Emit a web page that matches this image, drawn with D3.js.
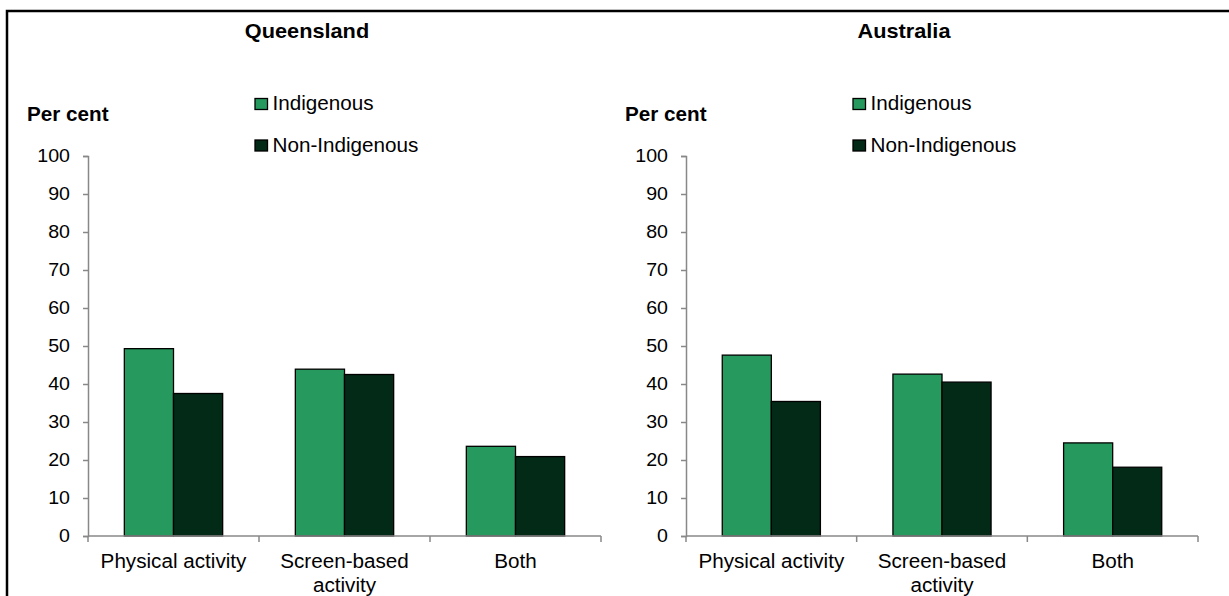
<!DOCTYPE html>
<html><head><meta charset="utf-8">
<script src="https://cdn.jsdelivr.net/npm/d3@7"></script>
<style>body{margin:0;background:#fff}svg{display:block}text{font-family:"Liberation Sans",Arial,sans-serif;fill:#000}</style>
</head><body><svg id="c" width="1229" height="596"></svg>
<script>
const categories = ["Physical activity", "Screen-based\nactivity", "Both"];
const seriesNames = ["Indigenous", "Non-Indigenous"];
const colors = ["#269A5E", "#022A17"];
const panelTitles = ["Queensland", "Australia"];
const qldIndigenous = [49.3, 43.9, 23.6];
const qldNonIndigenous = [37.5, 42.5, 20.9];
const ausIndigenous = [47.6, 42.6, 24.5];
const ausNonIndigenous = [35.4, 40.5, 18.1];
const yTicks = [0,10,20,30,40,50,60,70,80,90,100];

const SX = 1.06; // horizontal text stretch
const panels = [
  {title: panelTitles[0], data: [qldIndigenous, qldNonIndigenous], x0: 88, x1: 601, titleX: 307},
  {title: panelTitles[1], data: [ausIndigenous, ausNonIndigenous], x0: 686, x1: 1198, titleX: 904}
];

const svg = d3.select("#c");
svg.append("path").attr("d","M7,596 L7,11 L1229,11").attr("fill","none").attr("stroke","#000").attr("stroke-width",2.5);

const y = d3.scaleLinear().domain([0,100]).range([536,156]);

function txt(g, x, yy, s, size, opts={}) {
  return g.append("text").attr("transform", `translate(${x},${yy}) scale(${SX},1)`)
    .attr("text-anchor", opts.anchor || "start")
    .style("font-size", size + "px").style("font-weight", opts.bold ? "bold" : "normal").text(s);
}

panels.forEach(p => {
  const g = svg.append("g");
  const x = d3.scaleBand().domain(categories).range([p.x0, p.x1]).paddingInner(0).paddingOuter(0);
  const groupW = x.bandwidth()*0.575;
  const xs = d3.scaleBand().domain(seriesNames).range([0, groupW]).padding(0);

  txt(g, p.titleX, 38, p.title, 20.5, {anchor: "middle", bold: true});
  txt(g, p.x0 - 61, 121, "Per cent", 19.5, {bold: true});

  seriesNames.forEach((s, si) => {
    g.selectAll(null).data(categories).enter().append("rect")
      .attr("x", (c) => x(c) + (x.bandwidth()-groupW)/2 + xs(s))
      .attr("y", (c,i) => y(p.data[si][i]))
      .attr("width", xs.bandwidth())
      .attr("height", (c,i) => y(0) - y(p.data[si][i]))
      .attr("fill", colors[si]).attr("stroke","#000").attr("stroke-width",1.3);
  });

  const ya = g.append("g").attr("transform",`translate(${p.x0},0)`)
    .call(d3.axisLeft(y).tickValues(yTicks).tickSize(5).tickPadding(13));
  ya.select(".domain").attr("stroke","#888").attr("stroke-width",1.5);
  ya.selectAll(".tick line").attr("stroke","#888").attr("stroke-width",1.5);
  ya.selectAll(".tick text")
    .style("font-size","18.5px").style("font-family","Liberation Sans, Arial, sans-serif").attr("fill","#000")
    .attr("x", -18 / SX).attr("transform", `scale(${SX},1)`);

  const xa = g.append("g").attr("transform",`translate(0,${y(0)})`)
    .call(d3.axisBottom(x).tickSize(0).tickFormat(""));
  xa.select(".domain").remove();
  g.append("line").attr("x1",p.x0).attr("x2",p.x1).attr("y1",y(0)).attr("y2",y(0)).attr("stroke","#888").attr("stroke-width",1.5);
  const bounds = [p.x0].concat(categories.map(c => x(c)+x.bandwidth()));
  g.selectAll(null).data(bounds).enter().append("line")
    .attr("x1",d=>d).attr("x2",d=>d).attr("y1",y(0)).attr("y2",y(0)+6)
    .attr("stroke","#888").attr("stroke-width",1.5);
  categories.forEach(c => {
    c.split("\n").forEach((l, li) => txt(g, x(c)+x.bandwidth()/2, 568 + li*23.5, l, 19.5, {anchor: "middle"}));
  });

  const lx = p.x0 + 167;
  seriesNames.forEach((s, si) => {
    const ly = 98.5 + si*41.5;
    g.append("rect").attr("x", lx).attr("y", ly).attr("width", 12.5).attr("height", 11)
      .attr("fill", colors[si]).attr("stroke","#000").attr("stroke-width",1.3);
    txt(g, lx + 17.5, ly + 11.5, s, 19.5);
  });
});
</script></body></html>
